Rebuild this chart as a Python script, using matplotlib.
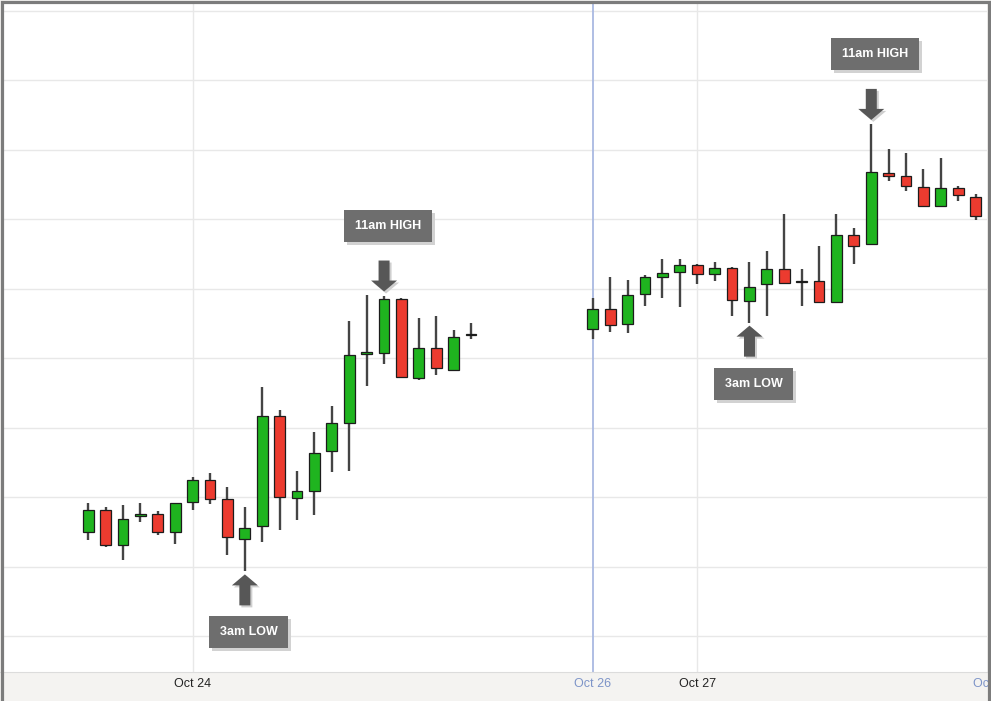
import numpy as np
import matplotlib.pyplot as plt
from matplotlib.patches import Rectangle, Polygon
from matplotlib.transforms import Affine2D, ScaledTranslation, blended_transform_factory

plt.rcParams['font.family'] = ['Liberation Sans', 'DejaVu Sans']

# ==== data: hourly candles (slot 0 = Oct 23 18:00), weekend gap between the two blocks ====
slots = list(range(0, 23)) + list(range(29, 52))

opens = [114.9, 118.1, 113.1, 117.2, 117.6, 114.9, 119.3, 122.5, 119.7, 114.0,
         115.9, 131.7, 119.8, 120.9, 126.6, 130.7, 140.6, 140.8, 148.5, 137.2,
         141.5, 138.3, 143.3,
         144.2, 147.1, 144.9, 149.2, 151.7, 152.4, 153.4, 152.1, 153.0, 148.2,
         150.6, 152.8, 150.9, 151.1, 148.0, 157.7, 156.4, 166.7, 166.2, 164.6,
         161.9, 164.5, 163.2]
highs = [119.1, 118.5, 118.8, 119.1, 118.0, 119.2, 122.9, 123.4, 121.5, 118.6,
         135.8, 132.5, 123.8, 129.3, 133.1, 145.4, 149.1, 149.0, 148.6, 145.7,
         146.1, 144.0, 145.0,
         148.7, 151.6, 151.2, 151.9, 154.2, 154.2, 153.5, 153.8, 153.1, 153.8,
         155.4, 160.7, 152.8, 156.1, 160.7, 158.7, 173.7, 170.1, 169.5, 167.2,
         168.8, 164.8, 163.6]
lows = [113.8, 112.8, 111.0, 116.4, 114.6, 113.2, 118.1, 119.0, 111.6, 109.3,
        113.6, 115.2, 116.7, 117.4, 123.6, 123.7, 136.0, 139.1, 137.2, 136.8,
        137.6, 138.2, 142.7,
        142.7, 143.7, 143.6, 147.5, 148.7, 147.3, 150.7, 151.1, 146.1, 145.1,
        146.0, 150.7, 147.5, 148.0, 147.9, 153.6, 156.3, 165.5, 164.0, 161.8,
        161.8, 162.6, 159.8]
closes = [118.1, 113.1, 116.8, 117.6, 114.9, 119.1, 122.5, 119.7, 114.2, 115.5,
          131.7, 120.0, 120.8, 126.4, 130.6, 140.4, 140.7, 148.5, 137.3, 141.5,
          138.5, 143.0, 143.5,
          147.1, 144.7, 149.1, 151.6, 152.3, 153.4, 152.1, 152.9, 148.3, 150.2,
          152.8, 150.8, 151.0, 148.1, 157.7, 156.2, 166.8, 166.2, 164.8, 161.9,
          164.5, 163.4, 160.5]

tick_pos = [6, 29, 35]
tick_labels = ["Oct 24", "Oct 26", "Oct 27"]
edge_label_pos = 51.9
edge_label = "Oct 28"

# (slot, text, side)
notes = [(9, "3am LOW", "low"), (17, "11am HIGH", "high"),
         (38, "3am LOW", "low"), (45, "11am HIGH", "high")]

# ==== figure ====
W, H = 991, 701
fig = plt.figure(figsize=(W / 100, H / 100), dpi=100, facecolor='#f4f3f1')
ax = fig.add_axes([3 / W, 29 / H, 984 / W, 669 / H])
ax.set_facecolor('white')
ax.set_xlim(-4.9, 51.65)
ax.set_ylim(94.82, 191.1)

for s in ax.spines.values():
    s.set_visible(False)
ax.set_yticks([])

# grid
for yv in np.arange(100, 191, 10):
    ax.axhline(yv, color='#e8e8e8', lw=1, zorder=0)
ax.axvline(tick_pos[0], color='#e8e8e8', lw=1, zorder=0)
ax.axvline(tick_pos[2], color='#e8e8e8', lw=1, zorder=0)
ax.axvline(tick_pos[1], color='#a9b9e2', lw=1.3, zorder=0)

# candles
o = np.array(opens); c = np.array(closes)
up = c >= o
cols = np.where(up, '#1fb41f', '#ec3b2f')
ax.vlines(slots, lows, highs, color='#444444', lw=1.7, zorder=2)
ax.bar(slots, np.maximum(np.abs(c - o), 0.22), bottom=np.minimum(o, c), width=0.62,
       color=cols, edgecolor='#1c1c1c', linewidth=0.9, zorder=3)

# x ticks
ax.set_xticks(tick_pos, tick_labels)
ax.tick_params(axis='x', length=0, pad=4, labelsize=9, labelcolor='#222222')
ax.get_xticklabels()[1].set_color('#7d94c8')
ax.text(edge_label_pos, -12, edge_label, color='#7d94c8', fontsize=9, ha='center', va='center',
        transform=blended_transform_factory(ax.transData, Affine2D() + ScaledTranslation(0, 0, ax.transAxes)),
        clip_on=False)

# annotations (arrow + label box), sized in pixels around the candle extreme
pos_of = {s: k for k, s in enumerate(slots)}
arrow = np.array([(0, 0), (-13, 11), (-5.5, 11), (-5.5, 31), (5.5, 31), (5.5, 11), (13, 11)])
for slot, txt, side in notes:
    k = pos_of[slot]
    if side == "high":
        base = ScaledTranslation(slot, highs[k], ax.transData)
        pts = arrow + [0, 4]
        bw = 88
        by0 = 54
    else:
        base = ScaledTranslation(slot, lows[k], ax.transData)
        pts = arrow * [1, -1] + [0, -3]
        bw = 79
        by0 = -45 - 32
    tr = Affine2D() + base
    ax.add_patch(Polygon(pts + [2, -2], closed=True, fc='#cfcfcf', ec='none', transform=tr, zorder=4))
    ax.add_patch(Polygon(pts, closed=True, fc='#575757', ec='none', transform=tr, zorder=5))
    ax.add_patch(Rectangle((-bw / 2 + 4 + 3, by0 - 3), bw, 32, fc='#d2d2d2', ec='none',
                           transform=tr, zorder=4))
    ax.add_patch(Rectangle((-bw / 2 + 4, by0), bw, 32, fc='#6e6e6e', ec='none',
                           transform=tr, zorder=5))
    ax.text(4, by0 + 16, txt, color='white', fontsize=9, fontweight='bold', ha='center', va='center',
            transform=tr, zorder=6)

# outer frame
fig.add_artist(Rectangle((1.5 / W, -0.05), (989 - 1.5) / W, 1.05 - 1.5 / H, fill=False,
                         ec='#7c7c7c', lw=2.3, zorder=10, transform=fig.transFigure))
fig.add_artist(plt.Line2D([0, 1], [29 / H, 29 / H], color='#dcdcdc', lw=0.8, zorder=1,
                          transform=fig.transFigure))

fig.savefig("out.png", dpi=100, facecolor=fig.get_facecolor())
